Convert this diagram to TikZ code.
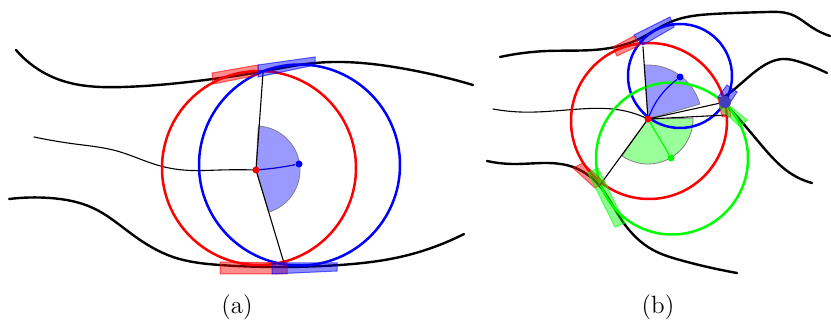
\documentclass[tikz,border=0pt]{standalone}
\usepackage{xcolor}
\usepackage{tikz}
\usetikzlibrary{calc, hobby}
\begin{document}
\begin{tikzpicture}[
    x=0.5pt, y=-0.5pt,
    wall/.style={black, line width=1.2pt, line cap=round, use Hobby shortcut},
    axis/.style={black, line width=0.55pt, line cap=round},
    disc/.style={line width=1.25pt},
    dot/.style={circle, inner sep=0pt, minimum size=3.5pt},
    pad/.style={line width=0.5pt, fill opacity=0.45, draw opacity=0.6},
    sector/.style={draw=gray, line width=0.4pt, fill opacity=0.4, fill=#1},
    caption/.style={font=\fontsize{12.5}{15}\selectfont},
  ]
  \useasboundingbox (0,0) rectangle (831,320);
  % --- (a) points
  \coordinate (aRed) at (256,170);
  \coordinate (aUp) at (263,73);
  \coordinate (aDown) at (284,263);
  % --- (a) walls
  \draw[wall] (16,50) .. (60,80) .. (123,87) .. (213,79) .. (260,72) .. (315,63) .. (333,62) .. (400,68) .. (473,85);
  \draw[wall] (9,199) .. (50,198) .. (93,208) .. (133,235) .. (173,257) .. (220,265) .. (283,267) .. (340,265) .. (400,257) .. (464,234);
  \draw[axis, use Hobby shortcut] (34,137) .. (75,144) .. (117,151) .. (157,165) .. (183,170) .. (220,170) .. (256,170);
  % --- (a) sector and circles
  \filldraw[sector=blue] (aRed) -- ++(-87:44) arc[start angle=-87, end angle=73, radius=44] -- cycle;
  \draw[disc, red] (259,168) circle[radius=97];
  \draw[disc, blue] (299.5,165) circle[radius=100.5];
  \draw[axis] (aRed) -- (aUp);
  \draw[axis] (aRed) -- (aDown);
  % --- (a) pads
  \filldraw[pad, fill=red, draw=red] (212,73) -- (258,65) -- (258,75) -- (213,84) -- cycle;
  \filldraw[pad, fill=blue, draw=blue] (258,65) -- (315,57) -- (315,65) -- (258,77) -- cycle;
  \filldraw[pad, fill=red, draw=red] (220,262) -- (287,263) -- (287,274) -- (220,274) -- cycle;
  \filldraw[pad, fill=blue, draw=blue] (272,263) -- (337,263) -- (337,271) -- (272,274) -- cycle;
  % --- (a) dots
  \node[dot, fill=blue] (aBlue) at (299,164) {};
  \draw[blue!80!black, line width=0.6pt] (aRed) to[bend right=3] (aBlue);
  \node[dot, fill=red] (aDot) at (aRed) {};
  \node[caption] (capA) at (237,307) {(a)};
  % --- (b) points
  \coordinate (bRed) at (648,119);
  \coordinate (bUp) at (643,47);
  \coordinate (bRight) at (725,102);
  \coordinate (bEast) at (727,115);
  \coordinate (bLow) at (600,185);
  % --- (b) walls
  \draw[wall] (500,57) .. (547,51) .. (593,50) .. (637,40) .. (673,21) .. (713,14) .. (767,12) .. (790,14) .. (813,28) .. (830,36);
  \draw[wall] (720,100) .. (737,87) .. (760,68) .. (783,59) .. (800,62) .. (827,73);
  \draw[wall] (728,107) .. (747,128) .. (770,155) .. (790,173) .. (812,183);
  \draw[wall] (487,161) .. (513,164) .. (547,163) .. (573,167) .. (597,183) .. (623,222) .. (653,250) .. (680,260) .. (737,273);
  \draw[axis, use Hobby shortcut] (493,109) .. (520,112) .. (580,109) .. (620,110) .. (648,119);
  % --- (b) sectors and circles
  \filldraw[sector=green] (bRed) -- ++(-1:45) arc[start angle=-1, end angle=125, radius=45] -- cycle;
  \filldraw[sector=blue] (bRed) -- ++(-94:54) arc[start angle=-94, end angle=-16, radius=54] -- cycle;
  \draw[disc, red] (649,121) circle[radius=78];
  \draw[disc, blue] (680,76) circle[radius=52];
  \draw[disc, green] (672,158.5) circle[radius=76];
  \draw[axis] (bRed) -- (bUp);
  \draw[axis] (bRed) -- (bRight);
  \draw[axis] (bRed) -- (bEast);
  \draw[axis] (bRed) -- (bLow);
  % --- (b) pads
  \filldraw[pad, fill=red, draw=red] (613,47) -- (634,36) -- (640,45) -- (617,56) -- cycle;
  \filldraw[pad, fill=blue, draw=blue] (634,35) -- (670,17) -- (674,27) -- (643,45) -- cycle;
  \filldraw[pad, fill=red, draw=red] (718,98) -- (727,97) -- (731,117) -- (722,117) -- cycle;
  \filldraw[pad, fill=blue, draw=blue] (727,85) -- (737,92) -- (728,106) -- (718,97) -- cycle;
  \filldraw[pad, fill=green, draw=green] (725,102) -- (747,120) -- (740,127) -- (720,108) -- cycle;
  \filldraw[pad, fill=red, draw=red] (573,168) -- (583,163) -- (605,183) -- (595,188) -- cycle;
  \filldraw[pad, fill=green, draw=green] (588,173) -- (598,168) -- (625,223) -- (615,227) -- cycle;
  \node[circle, inner sep=0pt, minimum size=6pt, fill=blue!50!gray] (bJoint) at (bRight) {};
  % --- (b) dots
  \node[dot, fill=blue] (bBlue) at (680,77) {};
  \node[dot, fill=green] (bGreen) at (671,158) {};
  \draw[blue, line width=0.6pt] (bRed) to[bend left=15] (bBlue);
  \draw[green, line width=0.6pt] (bRed) -- (bGreen);
  \node[dot, fill=red] (bDot) at (bRed) {};
  \node[caption] (capB) at (658,307) {(b)};
\end{tikzpicture}
\end{document}
